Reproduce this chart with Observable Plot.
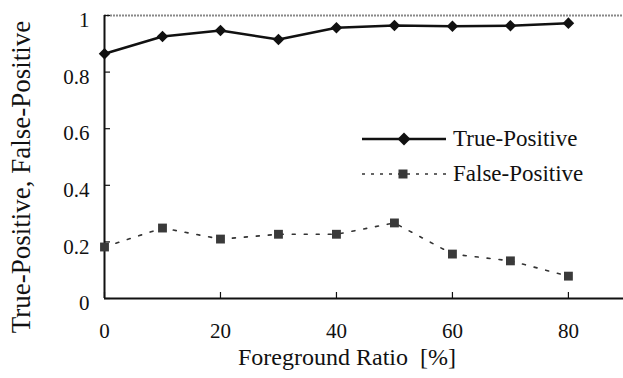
<!DOCTYPE html>
<html>
<head>
<meta charset="utf-8">
<script src="https://cdn.jsdelivr.net/npm/d3@7"></script>
<script src="https://cdn.jsdelivr.net/npm/@observablehq/plot@0.6"></script>
<style>
  html, body { margin: 0; padding: 0; background: #fff; }
  #chart { position: relative; width: 623px; height: 378px; font-family: "Liberation Serif", "Times New Roman", Times, "DejaVu Serif", serif; }
  #legend { position: absolute; left: 360px; top: 121px; font-size: 23px; color: #111; }
  .item { display: flex; align-items: center; height: 35px; }
  .item svg { margin-right: 7px; }
</style>
</head>
<body>
<div id="chart"></div>
<script>
// ---- data ----
const ratios = [0, 10, 20, 30, 40, 50, 60, 70, 80];
const truePositive = [0.865, 0.926, 0.947, 0.915, 0.957, 0.965, 0.962, 0.964, 0.973];
const falsePositive = [0.182, 0.249, 0.210, 0.227, 0.227, 0.267, 0.157, 0.133, 0.079];
const xTicks = [0, 20, 40, 60, 80];
const yTicks = [0, 0.2, 0.4, 0.6, 0.8, 1];
const yTickLabels = ["0", "0.2", "0.4", "0.6", "0.8", "1"];
const seriesNames = ["True-Positive", "False-Positive"];
const xTitle = "Foreground Ratio  [%]";
const yTitle = "True-Positive, False-Positive";

const tp = ratios.map((x, i) => ({x, y: truePositive[i]}));
const fp = ratios.map((x, i) => ({x, y: falsePositive[i]}));
const font = "'Liberation Serif', 'Times New Roman', Times, 'DejaVu Serif', serif";

const chart = Plot.plot({
  width: 623,
  height: 378,
  marginLeft: 104,
  marginRight: 0,
  marginTop: 15,
  marginBottom: 80,
  style: {fontFamily: font, color: "#111", background: "#fff"},
  x: {domain: [0, 89.5]},
  y: {domain: [0, 1]},
  marks: [
    Plot.ruleY([1], {stroke: "#888", strokeWidth: 2, strokeDasharray: "2,1"}),
    Plot.ruleY([0], {stroke: "#111", strokeWidth: 2}),
    Plot.ruleX([0], {stroke: "#111", strokeWidth: 2}),
    Plot.axisX(xTicks, {tickSize: 0, tickPadding: 25, fontSize: 21, fontFamily: font, tickFormat: d => String(d), label: null}),
    Plot.axisX(xTicks, {tickSize: -6, tickFormat: () => "", label: null, strokeWidth: 1.2}),
    Plot.axisY(yTicks, {tickSize: 0, tickPadding: 15, dy: 5, fontSize: 21, fontFamily: font, tickFormat: d => yTickLabels[yTicks.indexOf(d)], label: null}),
    Plot.axisY(yTicks, {tickSize: -6, tickFormat: () => "", label: null, strokeWidth: 1.2}),
    Plot.text([xTitle], {frameAnchor: "bottom", textAnchor: "middle", lineAnchor: "middle", dx: -17, dy: 59, fontSize: 24, fontFamily: font, fill: "#111"}),
    Plot.text([yTitle], {frameAnchor: "left", textAnchor: "middle", lineAnchor: "middle", rotate: -90, dx: -83, dy: 20, fontSize: 27, fontFamily: font, fill: "#111"}),
    Plot.line(fp, {x: "x", y: "y", stroke: "#333", strokeWidth: 1.6, strokeDasharray: "3,9"}),
    Plot.dot(fp, {x: "x", y: "y", symbol: "square", r: 5, fill: "#3a3a3a", stroke: "none"}),
    Plot.line(tp, {x: "x", y: "y", stroke: "#111", strokeWidth: 2.5}),
    Plot.dot(tp, {x: "x", y: "y", symbol: "diamond2", r: 5.2, fill: "#111", stroke: "none"})
  ]
});

const root = document.getElementById("chart");
root.appendChild(chart);

// legend overlay
const legend = document.createElement("div");
legend.id = "legend";
legend.innerHTML = `
  <div class="item">
    <svg width="86" height="16"><line x1="2" y1="8" x2="86" y2="8" stroke="#111" stroke-width="2.5"/>
      <path d="M44,1.5 L50.5,8 L44,14.5 L37.5,8 Z" fill="#111"/></svg>
    <span>${seriesNames[0]}</span>
  </div>
  <div class="item">
    <svg width="86" height="16"><line x1="2" y1="8" x2="86" y2="8" stroke="#333" stroke-width="1.6" stroke-dasharray="3,6"/>
      <rect x="38.5" y="3.5" width="9" height="9" fill="#3a3a3a"/></svg>
    <span>${seriesNames[1]}</span>
  </div>`;
root.appendChild(legend);
</script>
</body>
</html>
